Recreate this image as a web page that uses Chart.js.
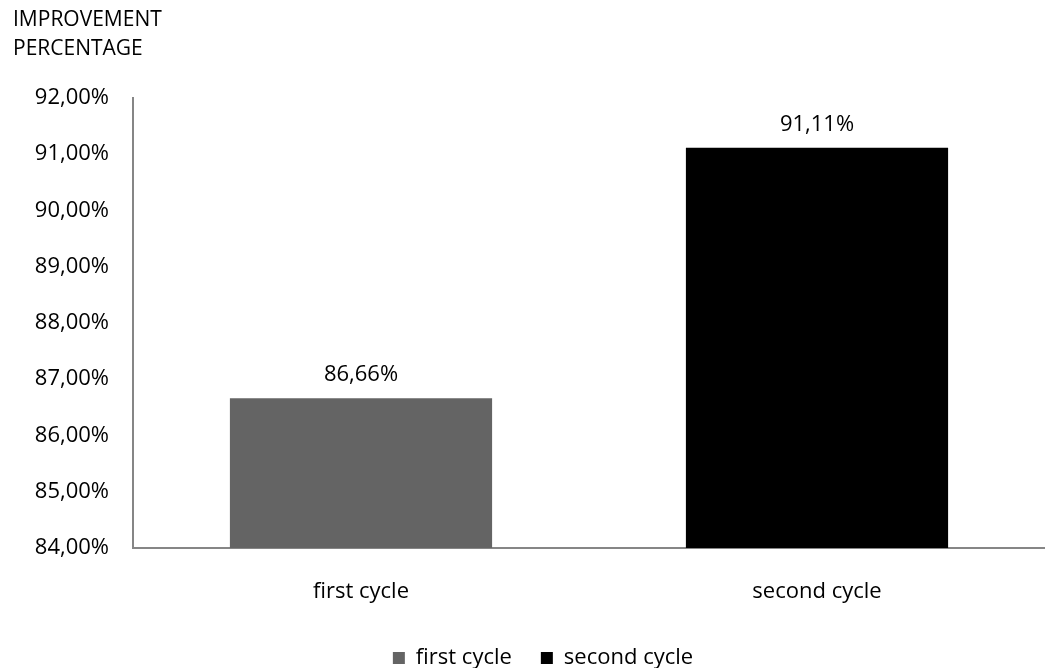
<!DOCTYPE html>
<html>
<head>
<meta charset="utf-8">
<script src="https://cdn.jsdelivr.net/npm/chart.js@4"></script>
<style>
  html, body { margin: 0; padding: 0; background: #fff; }
  canvas { display: block; }
</style>
</head>
<body>
<canvas id="chart" width="1045" height="668"></canvas>
<script>
// Values
const categories = ['first cycle', 'second cycle'];
const improvement = [86.66, 91.11];
const barColors = ['#646464', '#000000'];
const yMin = 84;
const yMax = 92;
const yStep = 1;
const axisTitle = ['IMPROVEMENT', 'PERCENTAGE'];

const FONT = '"Open Sans", "Liberation Sans", sans-serif';
const AXIS_COLOR = '#868686';

// 86.66 -> "86,66%"
const formatPct = v => Number(v).toFixed(2).replace('.', ',') + '%';

// Writes each bar's value just above it
const valueLabels = {
  id: 'valueLabels',
  afterDatasetsDraw(chart) {
    const ctx = chart.ctx;
    const meta = chart.getDatasetMeta(0);
    ctx.save();
    ctx.font = '22px ' + FONT;
    ctx.fillStyle = '#000';
    ctx.textAlign = 'center';
    ctx.textBaseline = 'alphabetic';
    meta.data.forEach((bar, i) => {
      const v = chart.data.datasets[0].data[i];
      ctx.fillText(formatPct(v), bar.x, bar.y - 17);
    });
    ctx.restore();
  }
};

// Nudges the legend block a little to the right of the canvas centre
const legendNudge = {
  id: 'legendNudge',
  afterLayout(chart) {
    const lg = chart.legend;
    if (!lg) return;
    lg.left += 14;
    lg.right += 14;
    lg.top += 2;
    lg.bottom += 2;
  }
};

new Chart(document.getElementById('chart'), {
  type: 'bar',
  data: {
    labels: categories,
    datasets: [{
      label: 'improvement',
      data: improvement,
      backgroundColor: barColors,
      borderWidth: 0,
      barPercentage: 0.575,
      categoryPercentage: 1
    }]
  },
  options: {
    responsive: false,
    animation: false,
    layout: { padding: { left: 13, right: 0, top: 0, bottom: 0 } },
    plugins: {
      tooltip: { enabled: false },
      title: {
        display: true,
        text: axisTitle,
        align: 'start',
        color: '#000',
        font: { family: FONT, size: 21, weight: 'normal', lineHeight: 1.35 },
        padding: { top: 6, bottom: 35 }
      },
      legend: {
        display: true,
        position: 'bottom',
        maxHeight: 52,
        labels: {
          color: '#000',
          font: { family: FONT, size: 22 },
          boxWidth: 12,
          boxHeight: 12,
          padding: 29,
          generateLabels: () => categories.map((c, i) => ({
            text: c,
            fillStyle: barColors[i],
            strokeStyle: barColors[i],
            lineWidth: 0,
            hidden: false,
            index: i
          }))
        },
        onClick: () => {}
      }
    },
    scales: {
      x: {
        grid: { display: false, drawTicks: false },
        border: { display: true, color: AXIS_COLOR, width: 2 },
        ticks: { color: '#000', font: { family: FONT, size: 22 }, padding: 31 },
        afterFit: s => { s.height = 68; }
      },
      y: {
        min: yMin,
        max: yMax,
        grid: { display: false, drawTicks: false },
        border: { display: true, color: AXIS_COLOR, width: 2 },
        ticks: {
          stepSize: yStep,
          color: '#000',
          font: { family: FONT, size: 22 },
          padding: 24,
          callback: v => formatPct(v)
        },
        afterFit: s => { s.width = 120; }
      }
    }
  },
  plugins: [valueLabels, legendNudge]
});
</script>
</body>
</html>
